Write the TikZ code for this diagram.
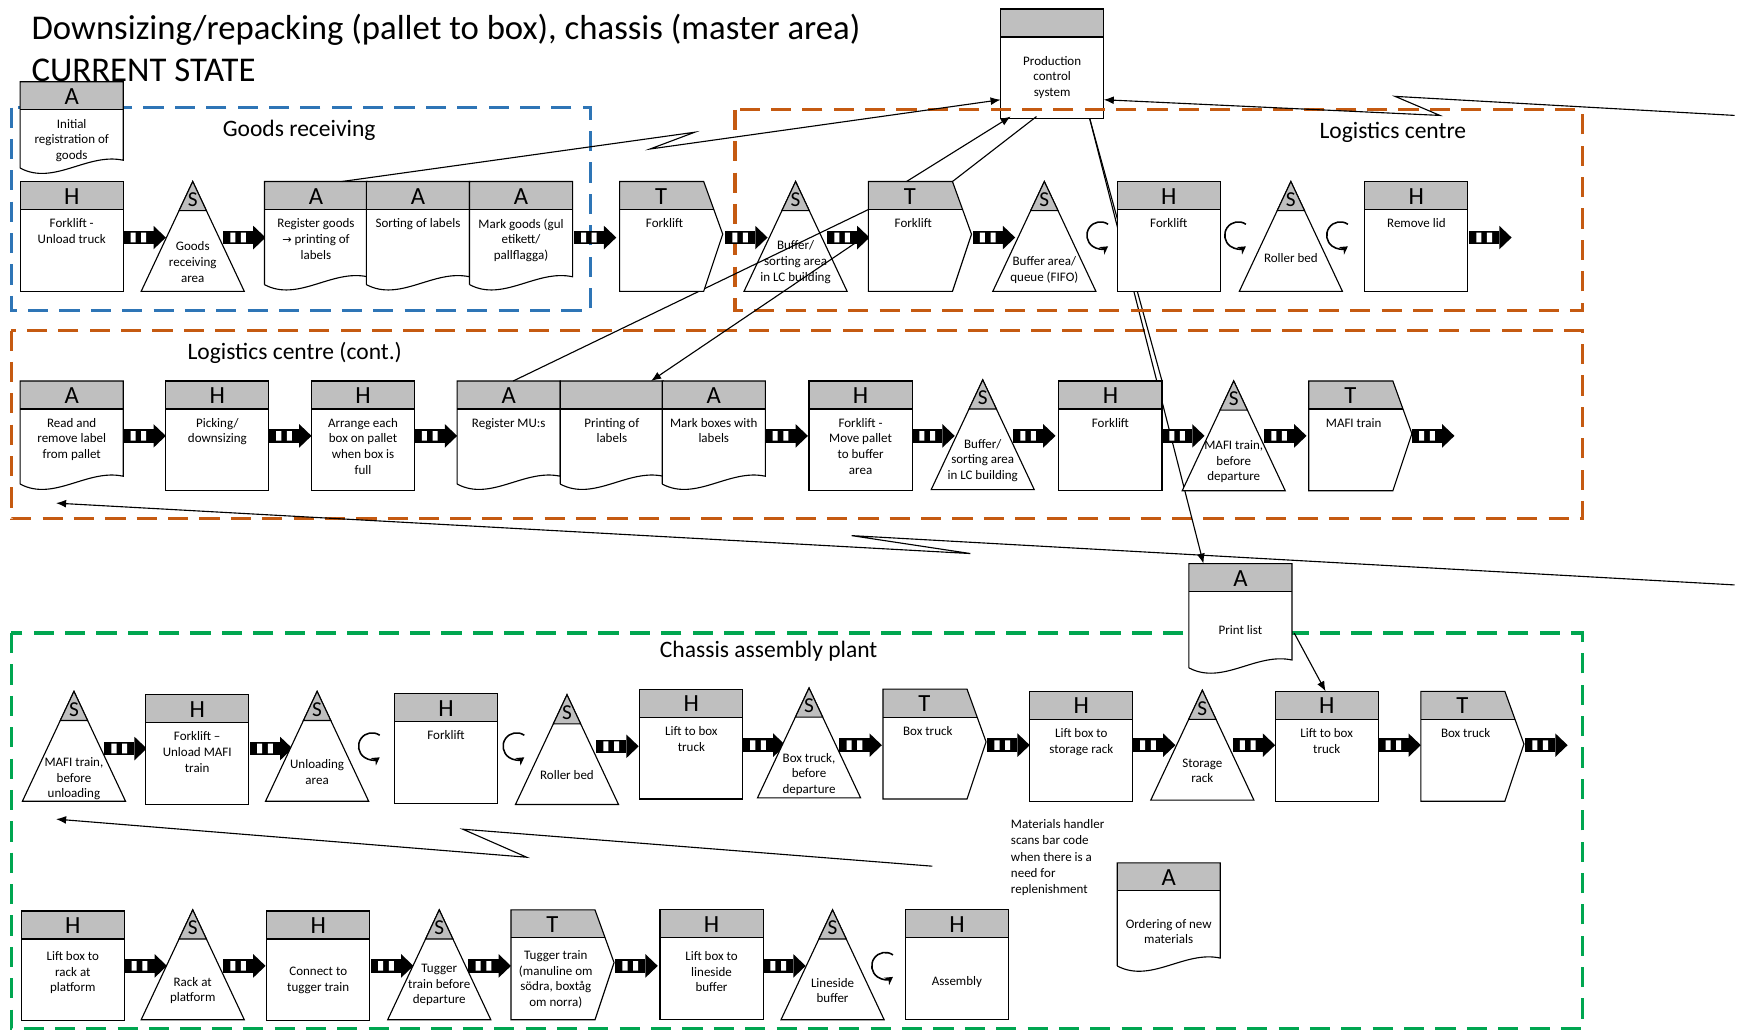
\documentclass[tikz,border=0pt]{standalone}
\usepackage{fontspec}
\setmainfont{Carlito}
\newfontfamily\arrowfont{DejaVu Sans}
\usetikzlibrary{calc,arrows.meta}
\pgfdeclarelayer{bg}
\pgfdeclarelayer{front}
\pgfsetlayers{bg,main,front}
\definecolor{hdrgray}{RGB}{191,191,191}
\definecolor{recvblue}{RGB}{46,117,182}
\definecolor{lcorange}{RGB}{197,90,17}
\definecolor{plantgreen}{RGB}{0,166,80}

\tikzset{
  ol/.style={draw=black, line width=1pt},
  boxarea/.style={draw=none, fill=none, inner sep=0pt, outer sep=0pt,
    minimum width=92pt, minimum height=98pt, anchor=north west},
  lettr/.style={font=\fontsize{22}{22}\selectfont, inner sep=0pt},
  sletter/.style={font=\fontsize{19}{19}\selectfont, inner sep=0pt},
  lbl/.style={font=\fontsize{11.6}{14}\selectfont, align=center, inner sep=0pt},
  area/.style={line width=3pt, dash pattern=on 18pt off 10pt},
  areatitle/.style={font=\fontsize{21}{21}\selectfont, inner sep=0pt},
  info/.style={draw=black, line width=1pt},
  infoarrow/.style={info, -{Latex[length=9pt,width=7pt]}},
}

% process box (H / A header letters), top-left corner at (x,y)
\newcommand\Hbox[6][]{%
  \begin{scope}[shift={(#3,#4)}]
    \node[boxarea] (#2) at (0,0) {};
    \fill[white] (0,0) rectangle (92,98);
    \fill[hdrgray] (0,0) rectangle (92,25);
    \draw[ol] (0,0) rectangle (92,98) (0,25) -- (92,25);
    \node[lettr] at (46,13) {#5};
    \node[lbl, anchor=north, #1] at (46,33) {#6};
  \end{scope}}

% document box with wavy bottom
\newcommand\Doc[7][]{%
  \begin{scope}[shift={(#3,#4)}]
    \node[boxarea, minimum height=#5] (#2) at (0,0) {};
    \fill[white] (0,0) -- (92,0) -- (92,#5-13)
      .. controls (60,#5-20) and (30,#5+10) .. (0,#5-6) -- cycle;
    \fill[hdrgray] (0,0) rectangle (92,25);
    \draw[ol] (0,#5-6) -- (0,0) -- (92,0) -- (92,#5-13)
      .. controls (60,#5-20) and (30,#5+10) .. (0,#5-6);
    \draw[ol] (0,25) -- (92,25);
    \node[lettr] at (46,13) {#6};
    \node[lbl, anchor=north, #1] at (46,33) {#7};
  \end{scope}}

% transport box
\newcommand\Tbox[6][]{%
  \begin{scope}[shift={(#3,#4)}]
    \node[boxarea] (#2) at (0,0) {};
    \fill[white] (0,0) -- (75,0) -- (92,47) -- (75,98) -- (0,98) -- cycle;
    \fill[hdrgray] (0,0) -- (75,0) -- (84,25) -- (0,25) -- cycle;
    \draw[ol] (0,0) -- (75,0) -- (92,47) -- (75,98) -- (0,98) -- cycle;
    \draw[ol] (0,25) -- (84,25);
    \node[lettr] at (37,13) {#5};
    \node[lbl, anchor=north, #1] at (40,33) {#6};
  \end{scope}}

% storage triangle
\newcommand\Sbox[5][]{%
  \begin{scope}[shift={(#3,#4)}]
    \node[boxarea] (#2) at (0,0) {};
    \filldraw[fill=white, ol] (46,0) -- (92,98) -- (0,98) -- cycle;
    \filldraw[fill=hdrgray, ol] (46,0) -- (58.2,26) -- (33.8,26) -- cycle;
    \node[sletter] at (46,16) {S};
    \node[lbl, #1] at (46,72) {#5};
  \end{scope}}

% push arrow, left end at (x,y)
\newcommand\Push[2]{%
  \begin{scope}[shift={(#1,#2)}]
    \fill (0,-6) rectangle (27,6);
    \fill[white] (6.5,-4.3) rectangle (11,4.3) (16,-4.3) rectangle (20.5,4.3);
    \fill (27,-10.5) -- (38,0) -- (27,10.5) -- cycle;
  \end{scope}}

% pull (circular) arrow centred at (x,y)
\newcommand\Pull[2]{%
  \draw[line width=1.4pt, -{Stealth[length=7pt,width=8pt]}]
    (#1,#2) ++(-55:12) arc[start angle=-55, end angle=-305, radius=12];}

\begin{document}
\begin{tikzpicture}[x=1pt, y=-1pt]
\useasboundingbox (0,0) rectangle (1568,924);

% ---- titles
\node[anchor=base west, font=\fontsize{31}{31}\selectfont, inner sep=0pt] (title)
  at (28,35) {Downsizing/repacking (pallet to box), chassis (master area)};
\node[anchor=base west, font=\fontsize{31}{31}\selectfont, inner sep=0pt] (state)
  at (28,73) {CURRENT STATE};

% ---- areas (behind the boxes)
\begin{pgfonlayer}{bg}
  \fill[white] (0,0) rectangle (1568,924);
  \draw[area, recvblue] (10,96) rectangle (527,277);
  \draw[area, lcorange] (10,295) rectangle (1412,463);
  \draw[area, plantgreen] (10,565) rectangle (1412,918);
\end{pgfonlayer}
\node[areatitle] (grlbl) at (267,116) {Goods receiving};
\node[areatitle] (lclbl) at (1243,118) {Logistics centre};
\node[areatitle] (lc2lbl) at (263,315) {Logistics centre (cont.)};
\node[areatitle] (caplbl) at (686,581) {Chassis assembly plant};

% ---- production control
\Hbox[yshift=-9pt]{pcs}{893}{8}{}{Production\\control\\system}
\draw[area, lcorange] (656,98) rectangle (1412,277);

% ---- goods receiving / logistics centre
\Doc{initreg}{18}{73}{83}{A}{Initial\\registration of\\goods}
\Hbox{unload}{18}{162}{H}{Forklift -\\Unload truck}
\Push{110}{212}
\Sbox{grarea}{126}{162}{Goods\\receiving\\area}
\Push{199}{212}
\Doc{regg}{236}{162}{98}{A}{Register goods\\{\arrowfont\fontsize{10}{14}\selectfont →} printing of\\labels}
\Doc{sortl}{327}{162}{98}{A}{Sorting of labels}
\Doc{markg}{419}{162}{98}{A}{Mark goods (gul\\etikett/\\pallflagga)}
\Push{512}{212}
\begin{pgfonlayer}{front}
  \Tbox{fl1}{553}{162}{T}{Forklift}
\end{pgfonlayer}
\Push{647}{212}
\Sbox{buf1}{664}{162}{Buffer/\\sorting area\\in LC building}
\Push{738}{212}
\Tbox{fl2}{775}{162}{T}{Forklift}
\Push{868}{212}
\Sbox[yshift=-7pt]{bufq}{886}{162}{Buffer area/\\queue (FIFO)}
\Pull{982}{210}
\Hbox{fl3}{997}{162}{H}{Forklift}
\Pull{1105}{210}
\Sbox[yshift=4pt]{roll1}{1106}{162}{Roller bed}
\Pull{1196}{210}
\Hbox{remlid}{1218}{162}{H}{Remove lid}
\Push{1311}{212}

% ---- logistics centre (cont.)
\Doc{readrm}{18}{340}{98}{A}{Read and\\remove label\\from pallet}
\Push{110}{389}
\Hbox{pick}{148}{340}{H}{Picking/\\downsizing}
\Push{240}{389}
\Hbox{arrange}{278}{340}{H}{Arrange each\\box on pallet\\when box is\\full}
\Push{370}{389}
\Doc{regmu}{408}{340}{98}{A}{Register MU:s}
\Doc{printl}{500}{340}{98}{}{Printing of\\labels}
\Doc{markb}{591}{340}{98}{A}{Mark boxes with\\labels}
\Push{683}{389}
\Hbox{movep}{722}{340}{H}{Forklift -\\Move pallet\\to buffer\\area}
\Push{814}{389}
\Sbox{buf2}{831}{339}{Buffer/\\sorting area\\in LC building}
\Push{904}{389}
\Hbox{fl4}{945}{340}{H}{Forklift}
\Push{1037}{389}
\Sbox{mafidep}{1055}{340}{MAFI train,\\before\\departure}
\Push{1128}{389}
\Tbox{mafi}{1168}{340}{T}{MAFI train}
\Push{1260}{389}

\Doc[yshift=-22pt]{plist}{1061}{503}{99}{A}{Print list}

% ---- chassis assembly plant
\Sbox[yshift=-6pt]{mafiun}{20}{617}{MAFI train,\\before\\unloading}
\Push{93}{668}
\Hbox{unmafi}{130}{620}{H}{Forklift --\\Unload MAFI\\train}
\Push{223}{668}
\Sbox{unarea}{237}{617}{Unloading\\area}
\Pull{332}{666}
\Hbox{fl5}{352}{619}{H}{Forklift}
\Pull{461}{666}
\Sbox{roll2}{460}{620}{Roller bed}
\Push{532}{666}
\Hbox{lift1}{571}{615}{H}{Lift to box\\truck}
\Push{663}{665}
\Sbox[yshift=-5pt]{btdep}{676}{614}{Box truck,\\before\\departure}
\Push{749}{665}
\Tbox{bt1}{788}{615}{T}{Box truck}
\Push{881}{665}
\Hbox{liftsr}{919}{617}{H}{Lift box to\\storage rack}
\Push{1011}{665}
\Sbox{stor}{1027}{616}{Storage\\rack}
\Push{1100}{665}
\Hbox{lift2}{1138}{617}{H}{Lift to box\\truck}
\Push{1230}{665}
\Tbox{bt2}{1268}{617}{T}{Box truck}
\Push{1361}{665}

\node[anchor=north west, align=left, inner sep=0pt,
  font=\fontsize{11.6}{14.6}\selectfont] (note) at (902,731)
  {Materials handler\\scans bar code\\when there is a\\need for\\replenishment};
\Doc[yshift=-17pt]{order}{997}{770}{98}{A}{Ordering of new\\materials}

\Hbox[yshift=-3pt]{liftrack}{19}{813}{H}{Lift box to\\rack at\\platform}
\Push{111}{862}
\Sbox{rackp}{126}{812}{Rack at\\platform}
\Push{199}{862}
\Hbox[yshift=-17pt]{conn}{238}{813}{H}{Connect to\\tugger train}
\Push{331}{862}
\Sbox[yshift=5pt]{tugdep}{346}{812}{Tugger\\train before\\departure}
\Push{418}{862}
\Tbox[yshift=-3pt]{tug}{456}{812}{T}{Tugger train\\(manuline om\\södra, boxtåg\\om norra)}
\Push{549}{862}
\Hbox[yshift=-4pt]{liftls}{589}{812}{H}{Lift box to\\lineside\\buffer}
\Push{681}{862}
\Sbox{lineb}{697}{812}{Lineside\\buffer}
\Pull{790}{862}
\Hbox[yshift=-26pt]{assy}{808}{812}{H}{Assembly}

% ---- information flows
\coordinate (z1a) at (620,118);
\coordinate (z1b) at (580,133);
\draw[infoarrow] ($(regg.north west)+(69,0)$) -- (z1a) -- (z1b) -- ($(pcs.south west)+(0,-17)$);

\coordinate (e2) at (1548,103);
\coordinate (z2a) at (1245,86);
\coordinate (z2b) at (1285,103);
\draw[infoarrow] (e2) -- (z2a) -- (z2b) -- ($(pcs.south east)+(0,-17)$);

\coordinate (e3) at (1548,522);
\coordinate (z3a) at (760,478);
\coordinate (z3b) at (866,494);
\coordinate (t3) at (50,449);
\draw[infoarrow] (e3) -- (z3a) -- (z3b) -- (t3);

\coordinate (e4) at (832,773);
\coordinate (z4a) at (413,740);
\coordinate (z4b) at (470,765);
\coordinate (t4) at (50,731);
\draw[infoarrow] (e4) -- (z4a) -- (z4b) -- (t4);

\draw[infoarrow] ($(fl2.north west)+(34,0)$) -- ($(pcs.south west)+(9,-2)$);
\draw[info] ($(fl2.north west)+(75,0)$) -- ($(pcs.south west)+(32,-2)$);

\begin{pgfonlayer}{bg}
  \draw[info] ($(pcs.south west)+(79,-2)$) -- (fl4.north east);
  \draw[infoarrow] ($(pcs.south west)+(79,-2)$) -- ($(plist.north west)+(13,0)$);
\end{pgfonlayer}
\draw[infoarrow] ($(plist.north east)+(2,62)$) -- ($(lift2.north west)+(45,0)$);

\draw[info] ($(regmu.north west)+(50,0)$) -- ($(fl2.north west)+(0,25)$);
\draw[infoarrow] ($(fl2.north west)+(-6,51)$) -- ($(printl.north west)+(81,0)$);
\end{tikzpicture}
\end{document}
